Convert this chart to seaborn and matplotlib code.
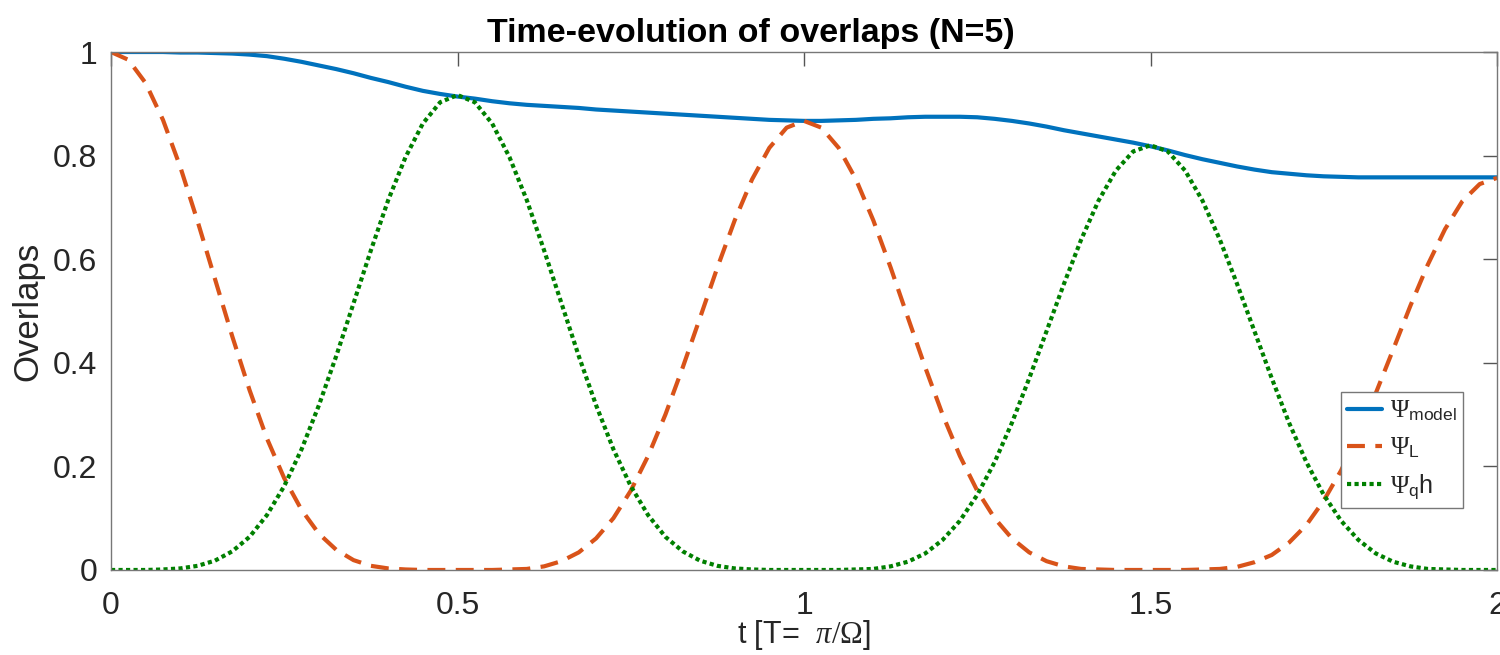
import numpy as np
import matplotlib.pyplot as plt
import seaborn as sns

# sampled every 0.025 from t=0 to t=2
t = np.linspace(0, 2, 81)

psi_model = [
    1.000, 1.000, 1.000, 1.000, 0.999, 0.999, 0.998, 0.997, 0.995, 0.992,
    0.987, 0.981, 0.974, 0.967, 0.959, 0.950, 0.942, 0.933, 0.925, 0.919,
    0.914, 0.910, 0.905, 0.901, 0.898, 0.896, 0.894, 0.892, 0.889, 0.887,
    0.885, 0.883, 0.881, 0.879, 0.877, 0.875, 0.873, 0.871, 0.869, 0.868,
    0.867, 0.867, 0.868, 0.869, 0.871, 0.872, 0.874, 0.875, 0.875, 0.875,
    0.874, 0.871, 0.867, 0.862, 0.856, 0.849, 0.843, 0.837, 0.831, 0.825,
    0.818, 0.810, 0.801, 0.793, 0.786, 0.779, 0.773, 0.768, 0.765, 0.762,
    0.760, 0.759, 0.758, 0.758, 0.758, 0.758, 0.758, 0.758, 0.758, 0.758,
    0.758,
]

psi_L = [
    1.000, 0.985, 0.940, 0.869, 0.778, 0.673, 0.562, 0.451, 0.347, 0.254,
    0.177, 0.116, 0.070, 0.039, 0.019, 0.008, 0.003, 0.001, 0.000, 0.000,
    0.000, 0.000, 0.000, 0.001, 0.002, 0.007, 0.017, 0.034, 0.061, 0.100,
    0.153, 0.220, 0.300, 0.391, 0.487, 0.584, 0.675, 0.754, 0.815, 0.854,
    0.867, 0.854, 0.815, 0.754, 0.675, 0.584, 0.487, 0.391, 0.300, 0.220,
    0.153, 0.100, 0.061, 0.034, 0.017, 0.007, 0.002, 0.001, 0.000, 0.000,
    0.000, 0.000, 0.000, 0.001, 0.002, 0.006, 0.015, 0.029, 0.053, 0.087,
    0.134, 0.192, 0.262, 0.341, 0.425, 0.510, 0.589, 0.658, 0.712, 0.745,
    0.757,
]

psi_qh = [
    0.000, 0.000, 0.000, 0.001, 0.003, 0.008, 0.018, 0.036, 0.064, 0.106,
    0.162, 0.233, 0.318, 0.413, 0.515, 0.617, 0.714, 0.797, 0.862, 0.903,
    0.917, 0.903, 0.862, 0.797, 0.714, 0.617, 0.515, 0.413, 0.318, 0.233,
    0.162, 0.106, 0.064, 0.036, 0.018, 0.008, 0.003, 0.001, 0.000, 0.000,
    0.000, 0.000, 0.000, 0.001, 0.002, 0.007, 0.016, 0.032, 0.058, 0.095,
    0.145, 0.208, 0.284, 0.370, 0.461, 0.552, 0.638, 0.713, 0.771, 0.808,
    0.820, 0.808, 0.771, 0.713, 0.638, 0.552, 0.461, 0.370, 0.284, 0.208,
    0.145, 0.095, 0.058, 0.032, 0.016, 0.007, 0.002, 0.001, 0.000, 0.000,
    0.000,
]

labels = [r'$\Psi_{\mathsf{model}}$', r'$\Psi_{\mathsf{L}}$', r'$\Psi_{\mathsf{q}}$h']
colors = ['#0072BD', '#D95319', '#008000']

sns.set_theme(style='white')
plt.rcParams['font.family'] = ['Liberation Sans', 'DejaVu Sans']
plt.rcParams['mathtext.fontset'] = 'custom'
plt.rcParams['mathtext.rm'] = 'Liberation Serif'
plt.rcParams['mathtext.it'] = 'Liberation Serif:italic'
plt.rcParams['mathtext.sf'] = 'Liberation Sans'

fig = plt.figure(figsize=(15, 6.55), dpi=100)
ax = fig.add_axes([0.074, 0.1298, 0.924, 0.7908])

sns.lineplot(x=t, y=psi_model, ax=ax, color=colors[0], lw=3, label=labels[0])
sns.lineplot(x=t, y=psi_L, ax=ax, color=colors[1], lw=3,
             linestyle=(0, (4.3, 2.5)), label=labels[1])
sns.lineplot(x=t, y=psi_qh, ax=ax, color=colors[2], lw=3,
             linestyle=(0, (1, 0.8)), label=labels[2])

ax.set_xlim(0, 2)
ax.set_ylim(0, 1)
ax.set_xticks([0, 0.5, 1, 1.5, 2])
ax.set_xticklabels(['0', '0.5', '1', '1.5', '2'])
ax.set_yticks([0, 0.2, 0.4, 0.6, 0.8, 1])
ax.set_yticklabels(['0', '0.2', '0.4', '0.6', '0.8', '1'])
ax.tick_params(direction='in', length=10, width=1, color='#555555',
               labelsize=23, labelcolor='#262626', top=True, right=True)
ax.tick_params(axis='x', pad=15)
ax.tick_params(axis='y', pad=10)
for s in ax.spines.values():
    s.set_color('#777777')
    s.set_linewidth(1)

ax.set_title('Time-evolution of overlaps (N=5)', fontsize=24.5, fontweight='bold',
             color='black', pad=7, x=0.462)
ax.set_xlabel(r't [T=  $\pi/\Omega$]', fontsize=22, color='#262626', labelpad=-2)
ax.set_ylabel('Overlaps', fontsize=25, color='#262626', labelpad=6)

leg = ax.legend(loc='lower right', bbox_to_anchor=(0.9755, 0.12), borderaxespad=0,
                fontsize=18, frameon=True, fancybox=False, framealpha=1,
                handlelength=1.4, handletextpad=0.3, labelspacing=0.5,
                borderpad=0.25)
leg.get_frame().set_edgecolor('#777777')
leg.get_frame().set_linewidth(1)

fig.savefig('out.png', dpi=100)
